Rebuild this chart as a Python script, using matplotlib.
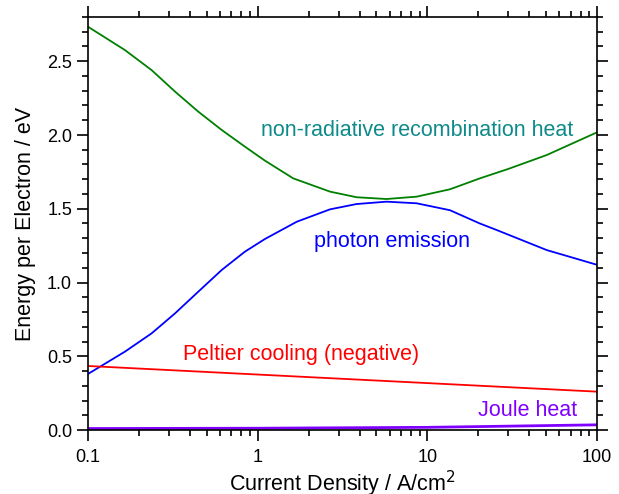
import numpy as np
import matplotlib
matplotlib.use('Agg')
import matplotlib.pyplot as plt
from matplotlib.ticker import MultipleLocator, LogLocator, NullFormatter, FixedLocator

plt.rcParams['font.family'] = ['Liberation Sans', 'DejaVu Sans']

# current density (A/cm^2) and energies (eV)
j_nonrad = [0.1, 0.165, 0.237, 0.326, 0.447, 0.614, 0.841, 1.104, 1.62, 2.67, 3.83,
            5.75, 8.65, 13.6, 20.4, 30.0, 50.5, 100]
e_nonrad = [2.734, 2.576, 2.44, 2.294, 2.158, 2.034, 1.921, 1.826, 1.706, 1.616, 1.578,
            1.566, 1.582, 1.632, 1.706, 1.77, 1.864, 2.018]

j_photon = [0.1, 0.165, 0.237, 0.326, 0.447, 0.614, 0.841, 1.104, 1.70, 2.67, 3.83,
            5.75, 8.65, 13.6, 20.4, 25.6, 50.5, 100]
e_photon = [0.38, 0.531, 0.655, 0.791, 0.938, 1.085, 1.209, 1.295, 1.412, 1.496, 1.532,
            1.548, 1.537, 1.49, 1.40, 1.356, 1.22, 1.12]

j_peltier = [0.1, 1, 10, 100]
e_peltier = [0.434, 0.376, 0.318, 0.26]

j_joule = [0.1, 1, 10, 100]
e_joule = [0.010, 0.012, 0.018, 0.035]

fig = plt.figure(figsize=(6.19, 4.94), dpi=100)
ax = fig.add_axes([88/619, 1 - 430/494, (597-88)/619, (430-17)/494])

ax.plot(j_nonrad, e_nonrad, color='#008000', lw=1.3)
ax.plot(j_photon, e_photon, color='#0000ff', lw=1.3)
ax.plot(j_peltier, e_peltier, color='#ff0000', lw=1.3)
ax.plot(j_joule, e_joule, color='#8000ff', lw=2)

ax.set_xscale('log')
ax.set_xlim(0.1, 100)
ax.set_ylim(0, 2.8)

ax.xaxis.set_major_locator(FixedLocator([0.1, 1, 10, 100]))
ax.set_xticklabels(['0.1', '1', '10', '100'])
ax.xaxis.set_minor_locator(LogLocator(base=10, subs=np.arange(2, 10)))
ax.xaxis.set_minor_formatter(NullFormatter())
ax.yaxis.set_major_locator(MultipleLocator(0.5))
ax.yaxis.set_minor_locator(MultipleLocator(0.1))
ax.yaxis.set_major_formatter(matplotlib.ticker.FormatStrFormatter('%.1f'))

ax.tick_params(which='both', direction='out', top=True, right=True, width=1.2, labelsize=13)
ax.tick_params(which='major', length=8)
ax.tick_params(which='minor', length=4)
ax.tick_params(axis='x', which='major', pad=6)
for s in ax.spines.values():
    s.set_linewidth(1.2)

ax.set_xlabel('Current Density / A/cm$^2$', fontsize=15.5, labelpad=2)
ax.set_ylabel('Energy per Electron / eV', fontsize=15.5, labelpad=8)

ax.text(8.74, 2.03, 'non-radiative recombination heat', color='#0f8a8a', fontsize=15.5, ha='center', va='center')
ax.text(6.18, 1.28, 'photon emission', color='#0000ff', fontsize=15.5, ha='center', va='center')
ax.text(1.80, 0.51, 'Peltier cooling (negative)', color='#ff0000', fontsize=15.5, ha='center', va='center')
ax.text(38.9, 0.135, 'Joule heat', color='#8000ff', fontsize=15.5, ha='center', va='center')

fig.savefig('out.png', dpi=100)
